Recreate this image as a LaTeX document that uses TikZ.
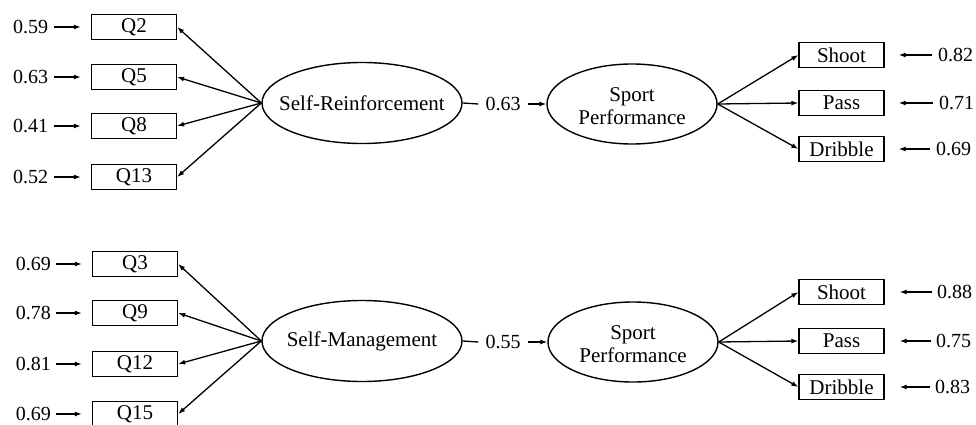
\documentclass[tikz,border=0pt]{standalone}
\usepackage{fontspec}
\setmainfont{Liberation Serif}
\usetikzlibrary{arrows.meta,shapes.geometric}
\begin{document}
\begin{tikzpicture}[x=1pt,y=-1pt,
 every node/.style={font=\fontsize{21}{23}\selectfont},
 ind/.style={draw,line width=1.3pt,minimum width=85pt,minimum height=25pt,inner sep=0pt},
 lat/.style={draw,ellipse,line width=1.4pt,inner sep=0pt},
 txt/.style={inner sep=0pt,align=center},
 err/.style={inner sep=0pt,font=\fontsize{20}{22}\selectfont},
 arr/.style={line width=1.3pt,-{Latex[length=7pt,width=5pt]}},
 ln/.style={line width=1.3pt}
 ]
\useasboundingbox (0,0) rectangle (976,425);

% ---------- top model ----------
\node[lat,minimum width=200pt,minimum height=81pt] (SR) at (362,103) {};
\node[txt] (SRt) at (SR.center) {Self-Reinforcement};
\node[lat,minimum width=170pt,minimum height=80pt] (SP1) at (632,104) {};
\node[txt] (SP1t) at ([yshift=-2pt]SP1.center) {Sport\\Performance};

\node[ind] (q2)  at (134,27)  {Q2};
\node[ind] (q5)  at (134,77)  {Q5};
\node[ind] (q8)  at (134,126) {Q8};
\node[ind] (q13) at (134,177) {Q13};

\node[err] (e2)  at (30.5,27)  {0.59};
\node[err] (e5)  at (30.5,77)  {0.63};
\node[err] (e8)  at (30.5,126) {0.41};
\node[err] (e13) at (30.5,177) {0.52};

\foreach \q/\e in {q2/e2,q5/e5,q8/e8,q13/e13}{
  \draw[arr,shorten <=6pt,shorten >=10pt] (\e.east) -- (\q.west);
  \draw[arr] (SR.west) -- (\q.east);
}

\node[err,inner xsep=7pt] (b1) at (503,104) {0.63};
\draw[ln] (SR.east) -- (b1.west);
\draw[arr] (b1.east) -- (SP1.west);

\node[ind] (sh1) at (841.5,55)  {Shoot};
\node[ind] (pa1) at (841.5,103) {Pass};
\node[ind] (dr1) at (841.5,149) {Dribble};

\node[err,anchor=west] (f1) at (938,55)  {0.82};
\node[err,anchor=west] (f2) at (939,103) {0.71};
\node[err,anchor=west] (f3) at (936,149) {0.69};

\foreach \b/\f in {sh1/f1,pa1/f2,dr1/f3}{
  \draw[arr] (SP1.east) -- (\b.west);
  \draw[arr,shorten <=6pt,shorten >=14pt] (\f.west) -- (\b.east);
}

% ---------- bottom model ----------
\node[lat,minimum width=200pt,minimum height=81pt] (SM) at (362,341) {};
\node[txt] (SMt) at (SM.center) {Self-Management};
\node[lat,minimum width=170pt,minimum height=80pt] (SP2) at (633,342) {};
\node[txt] (SP2t) at ([yshift=-2pt]SP2.center) {Sport\\Performance};

\node[ind] (q3)  at (135,264) {Q3};
\node[ind] (q9)  at (135,313) {Q9};
\node[ind] (q12) at (135,364) {Q12};
\node[ind] (q15) at (135,414) {Q15};

\node[err] (g3)  at (33.5,264) {0.69};
\node[err] (g9)  at (33.5,313) {0.78};
\node[err] (g12) at (33.5,364) {0.81};
\node[err] (g15) at (33.5,414) {0.69};

\foreach \q/\e in {q3/g3,q9/g9,q12/g12,q15/g15}{
  \draw[arr,shorten <=5pt,shorten >=10pt] (\e.east) -- (\q.west);
  \draw[arr] (SM.west) -- (\q.east);
}

\node[err,inner xsep=7pt] (b2) at (503,342) {0.55};
\draw[ln] (SM.east) -- (b2.west);
\draw[arr] (b2.east) -- (SP2.west);

\node[ind] (sh2) at (841.5,292) {Shoot};
\node[ind] (pa2) at (841.5,341) {Pass};
\node[ind] (dr2) at (841.5,387) {Dribble};

\node[err,anchor=west] (h1) at (937,292) {0.88};
\node[err,anchor=west] (h2) at (936,341) {0.75};
\node[err,anchor=west] (h3) at (935,387) {0.83};

\foreach \b/\f in {sh2/h1,pa2/h2,dr2/h3}{
  \draw[arr] (SP2.east) -- (\b.west);
  \draw[arr,shorten <=5pt,shorten >=15pt] (\f.west) -- (\b.east);
}
\end{tikzpicture}
\end{document}
